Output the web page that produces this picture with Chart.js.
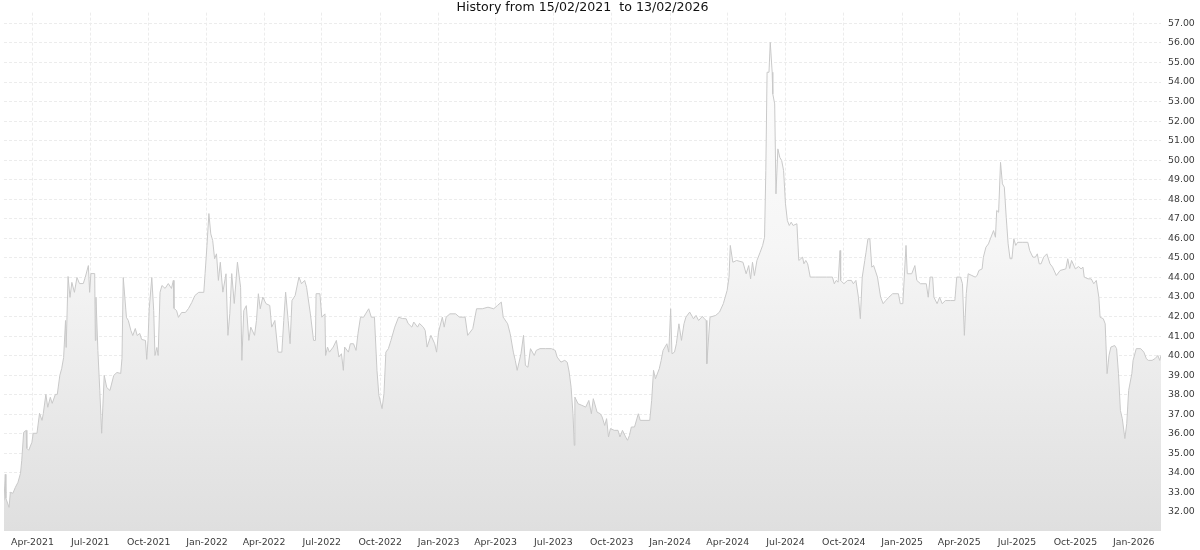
<!DOCTYPE html>
<html>
<head>
<meta charset="utf-8">
<script src="https://cdn.jsdelivr.net/npm/chart.js@4.4.1/dist/chart.umd.min.js"></script>
<style>
  body { margin: 0; background: #fff; }
</style>
</head>
<body>
<canvas id="myChart" width="1200" height="550"></canvas>
<script>
// price history (dates / closing values)
const dates = [
  '2021-02-15','2021-02-17','2021-02-18','2021-02-23','2021-02-25','2021-03-01','2021-03-05','2021-03-09','2021-03-13','2021-03-15',
  '2021-03-18','2021-03-22','2021-03-23','2021-03-26','2021-03-31','2021-04-02','2021-04-08','2021-04-12','2021-04-16','2021-04-18',
  '2021-04-22','2021-04-25','2021-04-29','2021-05-02','2021-05-07','2021-05-10','2021-05-14','2021-05-17','2021-05-20','2021-05-23',
  '2021-05-24','2021-05-27','2021-05-30','2021-06-02','2021-06-06','2021-06-10','2021-06-14','2021-06-20','2021-06-23','2021-06-28',
  '2021-06-30','2021-07-02','2021-07-08','2021-07-09','2021-07-10','2021-07-13','2021-07-16','2021-07-19','2021-07-23','2021-07-27',
  '2021-08-01','2021-08-07','2021-08-12','2021-08-18','2021-08-20','2021-08-22','2021-08-27','2021-08-30','2021-09-03','2021-09-06',
  '2021-09-10','2021-09-13','2021-09-17','2021-09-20','2021-09-26','2021-09-28','2021-09-30','2021-10-02','2021-10-06','2021-10-09',
  '2021-10-11','2021-10-14','2021-10-16','2021-10-19','2021-10-22','2021-10-27','2021-11-01','2021-11-06','2021-11-09','2021-11-10',
  '2021-11-14','2021-11-17','2021-11-22','2021-11-28','2021-12-03','2021-12-08','2021-12-13','2021-12-19','2021-12-27','2021-12-29',
  '2022-01-01','2022-01-04','2022-01-07','2022-01-10','2022-01-13','2022-01-16','2022-01-19','2022-01-22','2022-01-26','2022-01-31',
  '2022-02-03','2022-02-06','2022-02-09','2022-02-13','2022-02-18','2022-02-23','2022-02-25','2022-02-28','2022-03-04','2022-03-08',
  '2022-03-11','2022-03-17','2022-03-20','2022-03-23','2022-03-26','2022-03-30','2022-04-04','2022-04-10','2022-04-13','2022-04-18',
  '2022-04-23','2022-04-29','2022-05-02','2022-05-05','2022-05-09','2022-05-12','2022-05-15','2022-05-20','2022-05-26','2022-05-30',
  '2022-06-04','2022-06-07','2022-06-13','2022-06-18','2022-06-21','2022-06-22','2022-06-28','2022-07-01','2022-07-06','2022-07-07',
  '2022-07-10','2022-07-13','2022-07-19','2022-07-24','2022-07-28','2022-08-01','2022-08-04','2022-08-06','2022-08-12','2022-08-15',
  '2022-08-20','2022-08-24','2022-08-27','2022-08-31','2022-09-05','2022-09-08','2022-09-13','2022-09-17','2022-09-22','2022-09-26',
  '2022-09-29','2022-10-04','2022-10-07','2022-10-10','2022-10-14','2022-10-18','2022-10-24','2022-10-30','2022-11-05','2022-11-11',
  '2022-11-14','2022-11-20','2022-11-23','2022-11-29','2022-12-02','2022-12-08','2022-12-11','2022-12-14','2022-12-20','2022-12-26',
  '2022-12-29','2023-01-01','2023-01-07','2023-01-10','2023-01-13','2023-01-19','2023-01-28','2023-02-03','2023-02-12','2023-02-16',
  '2023-02-24','2023-03-02','2023-03-11','2023-03-20','2023-03-29','2023-04-04','2023-04-10','2023-04-13','2023-04-20','2023-04-24',
  '2023-04-29','2023-05-02','2023-05-05','2023-05-08','2023-05-11','2023-05-15','2023-05-18','2023-05-22','2023-05-26','2023-06-01',
  '2023-06-04','2023-06-10','2023-06-19','2023-06-28','2023-07-04','2023-07-07','2023-07-13','2023-07-19','2023-07-23','2023-07-26',
  '2023-07-29','2023-08-01','2023-08-03','2023-08-04','2023-08-09','2023-08-15','2023-08-21','2023-08-26','2023-08-30','2023-09-02',
  '2023-09-08','2023-09-13','2023-09-16','2023-09-20','2023-09-23','2023-09-26','2023-09-29','2023-10-05','2023-10-11','2023-10-14',
  '2023-10-18','2023-10-23','2023-10-26','2023-10-29','2023-11-01','2023-11-06','2023-11-12','2023-11-15','2023-11-30','2023-12-03',
  '2023-12-06','2023-12-09','2023-12-15','2023-12-18','2023-12-21','2023-12-27','2023-12-30','2024-01-02','2024-01-04','2024-01-08',
  '2024-01-11','2024-01-15','2024-01-19','2024-01-23','2024-01-26','2024-02-01','2024-02-07','2024-02-11','2024-02-15','2024-02-21',
  '2024-02-24','2024-02-27','2024-02-28','2024-03-04','2024-03-13','2024-03-19','2024-03-25','2024-03-31','2024-04-03','2024-04-05',
  '2024-04-09','2024-04-15','2024-04-25','2024-04-30','2024-05-04','2024-05-07','2024-05-10','2024-05-13','2024-05-17','2024-05-22',
  '2024-05-26','2024-05-29','2024-05-31','2024-06-02','2024-06-05','2024-06-07','2024-06-10','2024-06-11','2024-06-14','2024-06-16',
  '2024-06-19','2024-06-22','2024-06-25','2024-06-28','2024-07-01','2024-07-04','2024-07-07','2024-07-10','2024-07-13','2024-07-19',
  '2024-07-22','2024-07-28','2024-07-30','2024-08-02','2024-08-05','2024-08-09','2024-08-17','2024-08-26','2024-09-04','2024-09-13',
  '2024-09-16','2024-09-19','2024-09-22','2024-09-25','2024-09-26','2024-10-01','2024-10-07','2024-10-13','2024-10-16','2024-10-20',
  '2024-10-24','2024-10-27','2024-10-30','2024-11-03','2024-11-05','2024-11-08','2024-11-11','2024-11-14','2024-11-17','2024-11-23',
  '2024-11-28','2024-12-02','2024-12-06','2024-12-11','2024-12-17','2024-12-26','2024-12-29','2025-01-02','2025-01-07','2025-01-09',
  '2025-01-16','2025-01-21','2025-01-24','2025-01-30','2025-02-08','2025-02-11','2025-02-14','2025-02-18','2025-02-20','2025-02-25',
  '2025-03-01','2025-03-05','2025-03-10','2025-03-18','2025-03-25','2025-03-28','2025-04-03','2025-04-06','2025-04-09','2025-04-12',
  '2025-04-15','2025-04-21','2025-04-26','2025-04-29','2025-05-02','2025-05-07','2025-05-09','2025-05-13','2025-05-17','2025-05-20',
  '2025-05-25','2025-05-28','2025-05-30','2025-06-02','2025-06-05','2025-06-08','2025-06-11','2025-06-14','2025-06-17','2025-06-20',
  '2025-06-23','2025-06-26','2025-06-29','2025-07-02','2025-07-09','2025-07-18','2025-07-21','2025-07-26','2025-07-30','2025-08-02',
  '2025-08-05','2025-08-08','2025-08-12','2025-08-17','2025-08-22','2025-08-26','2025-09-01','2025-09-07','2025-09-16','2025-09-19',
  '2025-09-22','2025-09-25','2025-10-01','2025-10-06','2025-10-10','2025-10-13','2025-10-15','2025-10-21','2025-10-26','2025-10-30',
  '2025-11-03','2025-11-07','2025-11-09','2025-11-14','2025-11-17','2025-11-20','2025-11-23','2025-11-26','2025-12-02','2025-12-05',
  '2025-12-08','2025-12-11','2025-12-14','2025-12-18','2025-12-21','2025-12-24','2025-12-29','2025-12-31','2026-01-05','2026-01-12',
  '2026-01-17','2026-01-21','2026-01-24','2026-01-30','2026-02-04','2026-02-08','2026-02-11','2026-02-13'
];

const prices = [
  32.60,33.93,32.70,32.24,33.01,32.96,33.27,33.52,33.98,34.65,
  36.08,36.18,35.26,35.16,35.57,36.03,36.03,37.05,36.69,37.05,
  38.02,37.36,37.87,37.56,38.02,38.02,38.99,39.35,39.91,41.80,
  40.42,44.05,42.98,43.75,43.24,44.00,43.69,43.69,44.00,44.61,
  43.24,44.20,44.20,40.78,42.98,40.27,38.22,36.03,38.99,38.37,
  38.22,38.99,39.14,39.09,39.86,44.00,41.96,41.80,41.29,41.03,
  41.39,41.03,41.14,40.83,40.78,39.81,40.78,42.42,44.00,42.31,
  40.01,40.42,40.01,43.24,43.59,43.44,43.69,43.44,43.85,42.42,
  42.31,41.96,42.21,42.21,42.42,42.72,43.08,43.24,43.24,44.20,
  45.64,47.27,46.23,45.89,44.96,45.21,43.85,44.78,43.25,44.19,
  41.04,42.16,44.20,42.67,44.78,43.50,39.76,42.31,42.56,40.78,
  41.46,41.04,41.80,43.17,42.40,43.00,42.66,42.57,41.46,41.80,
  40.18,40.18,41.80,43.25,41.80,40.61,42.82,43.08,44.02,43.68,
  43.85,43.50,42.14,40.78,40.78,43.17,43.17,41.97,42.14,40.01,
  40.44,40.18,40.44,40.78,39.93,40.10,39.25,40.44,40.18,40.61,
  40.61,40.27,41.12,41.97,41.97,42.14,42.40,41.97,41.97,39.25,
  37.97,37.29,38.05,40.18,40.36,40.78,41.46,41.97,41.90,41.89,
  41.65,41.46,41.72,41.46,41.65,41.46,41.29,40.44,41.04,40.61,
  40.18,41.20,41.97,41.46,41.97,42.14,42.14,41.97,41.97,41.04,
  41.38,42.40,42.40,42.48,42.40,42.57,42.74,41.97,41.63,41.12,
  40.18,39.76,39.25,39.67,40.10,41.04,39.50,39.41,40.36,40.01,
  40.27,40.36,40.36,40.36,40.27,39.93,39.67,39.76,39.66,39.16,
  38.39,37.03,35.41,37.88,37.54,37.46,37.37,37.71,37.03,37.80,
  37.11,37.03,36.86,36.43,36.78,35.84,36.27,36.18,36.18,35.84,
  36.18,35.84,35.67,35.92,36.35,36.35,37.03,36.69,36.69,37.71,
  39.25,38.82,39.33,39.76,40.27,40.61,40.18,42.40,40.10,40.18,
  40.61,41.63,40.78,41.63,41.97,42.23,41.89,42.06,41.80,42.01,
  41.89,41.80,39.59,41.97,42.06,42.23,42.66,43.34,44.02,45.64,
  44.78,44.87,44.78,44.19,44.61,43.93,44.78,44.10,44.87,45.29,
  45.64,46.06,49.47,54.50,54.50,56.03,54.50,53.39,52.88,48.28,
  50.58,50.15,49.98,49.47,47.77,46.91,46.66,46.83,46.66,46.75,
  44.87,45.04,44.70,44.87,44.70,44.02,44.02,44.02,44.02,44.02,
  43.68,43.85,43.76,45.38,43.85,43.68,43.85,43.85,43.68,43.85,
  42.99,41.89,44.02,44.87,45.29,45.98,45.98,44.53,44.61,44.02,
  42.99,42.66,42.82,42.99,43.17,43.17,42.66,42.66,45.64,44.19,
  44.19,44.61,43.85,43.68,43.68,42.99,44.02,44.02,42.99,42.66,
  42.99,42.66,42.82,42.82,42.82,44.02,44.02,43.68,41.04,43.17,
  44.19,44.10,44.02,44.10,44.36,44.44,45.04,45.55,45.72,45.98,
  46.40,46.06,47.43,47.34,49.89,48.79,48.62,47.08,45.72,44.96,
  44.96,45.98,45.64,45.80,45.80,45.80,45.38,45.04,45.04,45.21,
  44.70,44.70,45.04,45.21,44.70,44.53,44.10,44.36,44.44,44.96,
  44.46,44.87,44.44,44.56,44.44,44.53,44.02,43.93,43.93,43.68,
  43.85,42.99,41.97,41.89,41.63,39.08,40.01,40.44,40.52,40.36,
  39.08,37.20,36.78,35.76,36.52,38.22,39.08,39.76,40.36,40.36,
  40.18,39.84,39.76,39.76,39.86,40.01,39.76,40.01
];

const xTickLabels = [
  'Apr-2021','Jul-2021','Oct-2021','Jan-2022','Apr-2022','Jul-2022','Oct-2022',
  'Jan-2023','Apr-2023','Jul-2023','Oct-2023','Jan-2024','Apr-2024','Jul-2024',
  'Oct-2024','Jan-2025','Apr-2025','Jul-2025','Oct-2025','Jan-2026'
];

const yTicks = [32,33,34,35,36,37,38,39,40,41,42,43,44,45,46,47,48,49,50,51,52,53,54,55,56,57];

const titleText = 'History from 15/02/2021  to 13/02/2026';

const DAY = 86400000;
const start = Date.UTC(2021, 1, 15);
const dayOf = s => (Date.parse(s + 'T00:00:00Z') - start) / DAY;
const months = ['Jan','Feb','Mar','Apr','May','Jun','Jul','Aug','Sep','Oct','Nov','Dec'];
const tickDay = lbl => {
  const [m, y] = lbl.split('-');
  return (Date.UTC(+y, months.indexOf(m), 1) - start) / DAY;
};

const points = dates.map((d, i) => ({ x: dayOf(d), y: prices[i] }));
const xTickPos = xTickLabels.map(tickDay);

const gridColor = '#ececec';
const tickFont = { family: 'DejaVu Sans', size: 9.4 };

const ctx = document.getElementById('myChart').getContext('2d');
const myChart = new Chart(ctx, {
  type: 'line',
  data: {
    datasets: [{
      data: points,
      borderColor: '#c9c9c9',
      borderWidth: 1,
      pointRadius: 0,
      tension: 0,
      fill: 'start',
      backgroundColor: (c) => {
        const area = c.chart.chartArea;
        if (!area) return '#eeeeee';
        const g = c.chart.ctx.createLinearGradient(0, area.top, 0, area.bottom);
        g.addColorStop(0, '#ffffff');
        g.addColorStop(0.45, '#f6f6f6');
        g.addColorStop(1, '#dfdfdf');
        return g;
      }
    }]
  },
  options: {
    responsive: false,
    animation: false,
    devicePixelRatio: 1,
    layout: { padding: { left: 4, right: 0, top: 0, bottom: 0 } },
    plugins: {
      legend: { display: false },
      tooltip: { enabled: false },
      title: {
        display: true,
        fullSize: false,
        text: titleText,
        color: '#111',
        font: { family: 'DejaVu Sans', size: 12.6, weight: 'normal', lineHeight: 0.8 },
        padding: { top: 2, bottom: 0 }
      }
    },
    scales: {
      x: {
        type: 'linear',
        min: 0,
        max: dayOf('2026-02-13'),
        afterBuildTicks: (s) => { s.ticks = xTickPos.map(v => ({ value: v })); },
        afterFit: (s) => { s.height = 19; },
        ticks: {
          autoSkip: false,
          maxRotation: 0,
          padding: 6,
          color: '#3a3a3a',
          font: tickFont,
          callback: (v) => xTickLabels[xTickPos.indexOf(v)]
        },
        grid: { color: gridColor, drawTicks: false },
        border: { display: false, dash: [3, 2] }
      },
      y: {
        position: 'right',
        min: 31.03,
        max: 57.55,
        afterBuildTicks: (s) => { s.ticks = yTicks.map(v => ({ value: v })); },
        afterFit: (s) => { s.width = 39; },
        ticks: {
          padding: 7,
          color: '#3a3a3a',
          font: tickFont,
          callback: (v) => v.toFixed(2)
        },
        grid: { color: gridColor, drawTicks: false },
        border: { display: false, dash: [3, 2] }
      }
    }
  }
});
</script>
</body>
</html>
